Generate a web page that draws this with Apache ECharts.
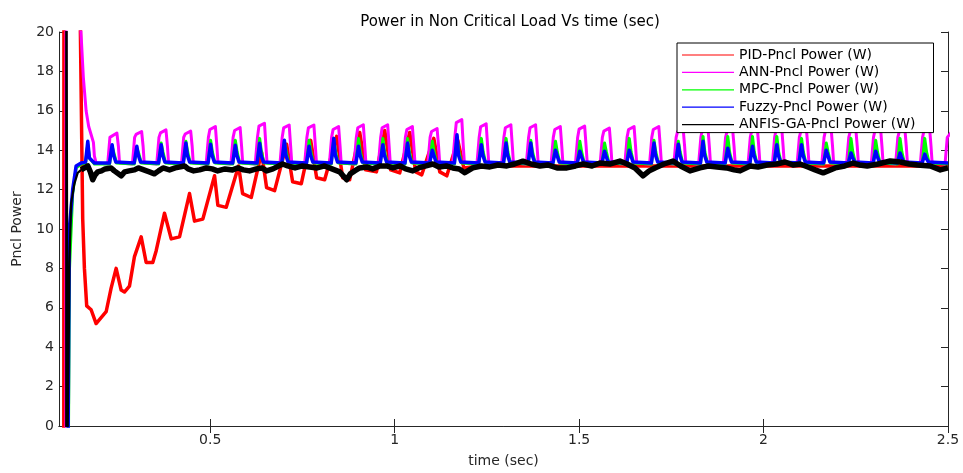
<!DOCTYPE html>
<html>
<head>
<meta charset="utf-8">
<script src="https://cdn.jsdelivr.net/npm/echarts@6/dist/echarts.min.js"></script>
<style>
html,body{margin:0;padding:0;background:#fff;}
#chart{width:963px;height:473px;}
</style>
</head>
<body>
<div id="chart"></div>
<script>
// ---- tick labels / categories ----
const xTickValues = [0.5, 1, 1.5, 2, 2.5];
const seriesNames = ['PID-Pncl Power (W)', 'ANN-Pncl Power (W)', 'MPC-Pncl Power (W)', 'Fuzzy-Pncl Power (W)', 'ANFIS-GA-Pncl Power (W)'];

// ---- series values [time (s), power] ----
const pidData = [
[0.103,-1],[0.1035,30],[0.147,30],[0.148,20],[0.1543,10.5],[0.1589,8.0],[0.1651,6.1],[0.1771,5.9],[0.1906,5.2],[0.2178,5.8],
[0.2313,7.0],[0.2449,8.0],[0.2585,6.9],[0.2674,6.8],[0.281,7.1],[0.2946,8.6],[0.3128,9.6],[0.3263,8.3],[0.3442,8.3],[0.3535,8.9],
[0.376,10.8],[0.3806,10.9],[0.3942,9.5],[0.4167,9.6],[0.4438,11.8],[0.4574,10.4],[0.4799,10.5],[0.5117,12.7],[0.5207,11.2],[0.5434,11.1],
[0.5768,13.2],[0.5877,11.8],[0.6113,11.6],[0.6392,13.9],[0.6528,12.1],[0.6745,11.95],[0.707,14.3],[0.7233,12.4],[0.7469,12.3],[0.7722,14.5],
[0.7885,12.6],[0.8102,12.5],[0.8427,14.7],[0.859,12.6],[0.878,12.5],[0.9052,14.9],[0.9214,13.0],[0.9505,12.9],[0.973,15.0],[0.9893,13.0],
[1.0137,12.85],[1.0408,14.9],[1.0571,12.9],[1.0734,12.75],[1.106,14.6],[1.1223,12.9],[1.1413,12.7],[1.1711,14.5],[1.1874,13.1],[1.23,13.2],
[1.5,13.2],[1.8,13.2],[2.1,13.2],[2.5,13.2]
];

const annData = [
[0.1085,-1],[0.109,30],[0.148,30],[0.1495,20],[0.156,17.7],[0.1635,16.0],[0.1705,15.2],[0.177,14.8],[0.1833,14.4],[0.186,13.7],[0.1906,13.36],
[0.222,13.3],[0.228,14.65],[0.232,14.72],[0.247,14.87],[0.251,14.2],[0.254,13.35],
[0.289,13.3],[0.295,14.65],[0.299,14.8],[0.314,14.95],[0.318,14.2],[0.321,13.35],
[0.355,13.3],[0.361,14.65],[0.365,14.88],[0.380,15.03],[0.384,14.2],[0.387,13.35],
[0.422,13.3],[0.428,14.65],[0.432,14.82],[0.447,14.97],[0.451,14.2],[0.454,13.35],
[0.489,13.3],[0.495,14.65],[0.499,15.05],[0.514,15.2],[0.518,14.2],[0.521,13.35],
[0.556,13.3],[0.562,14.65],[0.566,15.0],[0.581,15.15],[0.585,14.2],[0.588,13.35],
[0.622,13.3],[0.628,14.65],[0.632,15.22],[0.647,15.37],[0.651,14.2],[0.654,13.35],
[0.689,13.3],[0.695,14.65],[0.699,15.13],[0.714,15.28],[0.718,14.2],[0.721,13.35],
[0.756,13.3],[0.762,14.65],[0.766,15.13],[0.781,15.28],[0.785,14.2],[0.788,13.35],
[0.823,13.3],[0.829,14.65],[0.833,15.05],[0.848,15.2],[0.852,14.2],[0.855,13.35],
[0.890,13.3],[0.896,14.65],[0.900,15.14],[0.915,15.29],[0.919,14.2],[0.922,13.35],
[0.956,13.3],[0.962,14.65],[0.966,15.14],[0.981,15.29],[0.985,14.2],[0.988,13.35],
[1.023,13.3],[1.029,14.65],[1.033,15.05],[1.048,15.2],[1.052,14.2],[1.055,13.35],
[1.090,13.3],[1.096,14.65],[1.100,14.95],[1.115,15.1],[1.119,14.2],[1.122,13.35],
[1.157,13.3],[1.163,14.65],[1.167,15.4],[1.182,15.55],[1.186,14.2],[1.189,13.35],
[1.223,13.3],[1.229,14.65],[1.233,15.19],[1.248,15.34],[1.252,14.2],[1.255,13.35],
[1.290,13.3],[1.296,14.65],[1.300,15.14],[1.315,15.29],[1.319,14.2],[1.322,13.35],
[1.357,13.3],[1.363,14.65],[1.367,15.14],[1.382,15.29],[1.386,14.2],[1.389,13.35],
[1.424,13.3],[1.430,14.65],[1.434,15.05],[1.449,15.2],[1.453,14.2],[1.456,13.35],
[1.490,13.3],[1.496,14.65],[1.500,15.07],[1.515,15.22],[1.519,14.2],[1.522,13.35],
[1.557,13.3],[1.563,14.65],[1.567,14.97],[1.582,15.12],[1.586,14.2],[1.589,13.35],
[1.624,13.3],[1.630,14.65],[1.634,15.05],[1.649,15.2],[1.653,14.2],[1.656,13.35],
[1.691,13.3],[1.697,14.65],[1.701,15.05],[1.716,15.2],[1.720,14.2],[1.723,13.35],
[1.757,13.3],[1.763,14.65],[1.767,14.95],[1.782,15.1],[1.786,14.2],[1.789,13.35],
[1.824,13.3],[1.830,14.65],[1.834,15.05],[1.849,15.2],[1.853,14.2],[1.856,13.35],
[1.891,13.3],[1.897,14.65],[1.901,14.95],[1.916,15.1],[1.920,14.2],[1.923,13.35],
[1.958,13.3],[1.964,14.65],[1.968,15.0],[1.983,15.15],[1.987,14.2],[1.990,13.35],
[2.024,13.3],[2.030,14.65],[2.034,15.05],[2.049,15.2],[2.053,14.2],[2.056,13.35],
[2.091,13.3],[2.097,14.65],[2.101,14.95],[2.116,15.1],[2.120,14.2],[2.123,13.35],
[2.158,13.3],[2.164,14.65],[2.168,15.0],[2.183,15.15],[2.187,14.2],[2.190,13.35],
[2.225,13.3],[2.231,14.65],[2.235,14.95],[2.250,15.1],[2.254,14.2],[2.257,13.35],
[2.292,13.3],[2.298,14.65],[2.302,15.0],[2.317,15.15],[2.321,14.2],[2.324,13.35],
[2.358,13.3],[2.364,14.65],[2.368,14.95],[2.383,15.1],[2.387,14.2],[2.390,13.35],
[2.425,13.3],[2.431,14.65],[2.435,15.0],[2.450,15.15],[2.454,14.2],[2.457,13.35],
[2.492,13.3],[2.498,14.65],[2.517,15.1]
];

const mpcData = [
[0.1155,-1],[0.1185,8],[0.127,11.8],[0.1364,13.1],[0.150,13.3],[0.162,13.35],[0.168,14.3],[0.1725,13.6],[0.186,13.3],
[0.227,13.3],[0.234,14.2],[0.239,13.85],[0.246,13.35],
[0.294,13.3],[0.301,14.1],[0.306,13.85],[0.313,13.35],
[0.360,13.3],[0.367,14.36],[0.372,13.9],[0.379,13.35],
[0.427,13.3],[0.434,14.45],[0.439,13.9],[0.446,13.35],
[0.494,13.3],[0.501,14.5],[0.506,13.9],[0.513,13.35],
[0.561,13.3],[0.568,14.5],[0.573,13.9],[0.580,13.35],
[0.627,13.3],[0.634,14.6],[0.639,13.9],[0.646,13.35],
[0.694,13.3],[0.701,14.45],[0.706,13.9],[0.713,13.35],
[0.761,13.3],[0.768,14.5],[0.773,13.9],[0.780,13.35],
[0.828,13.3],[0.835,14.6],[0.840,13.9],[0.847,13.35],
[0.895,13.3],[0.902,14.6],[0.907,13.9],[0.914,13.35],
[0.961,13.3],[0.968,14.6],[0.973,13.9],[0.980,13.35],
[1.028,13.3],[1.035,14.6],[1.040,13.9],[1.047,13.35],
[1.095,13.3],[1.102,14.45],[1.107,13.9],[1.114,13.35],
[1.162,13.3],[1.169,14.7],[1.174,13.9],[1.181,13.35],
[1.228,13.3],[1.235,14.6],[1.240,13.9],[1.247,13.35],
[1.295,13.3],[1.302,14.6],[1.307,13.9],[1.314,13.35],
[1.362,13.3],[1.369,14.5],[1.374,13.9],[1.381,13.35],
[1.429,13.3],[1.436,14.45],[1.441,13.9],[1.448,13.35],
[1.495,13.3],[1.502,14.45],[1.507,13.9],[1.514,13.35],
[1.562,13.3],[1.569,14.36],[1.574,13.9],[1.581,13.35],
[1.629,13.3],[1.636,14.6],[1.641,13.9],[1.648,13.35],
[1.696,13.3],[1.703,14.5],[1.708,13.9],[1.715,13.35],
[1.762,13.3],[1.769,14.45],[1.774,13.9],[1.781,13.35],
[1.829,13.3],[1.836,14.7],[1.841,13.9],[1.848,13.35],
[1.896,13.3],[1.903,14.7],[1.908,13.9],[1.915,13.35],
[1.963,13.3],[1.970,14.7],[1.975,13.9],[1.982,13.35],
[2.029,13.3],[2.036,14.7],[2.041,13.9],[2.048,13.35],
[2.096,13.3],[2.103,14.6],[2.108,13.9],[2.115,13.35],
[2.163,13.3],[2.170,14.36],[2.175,13.9],[2.182,13.35],
[2.230,13.3],[2.237,14.6],[2.242,13.9],[2.249,13.35],
[2.297,13.3],[2.304,14.5],[2.309,13.9],[2.316,13.35],
[2.363,13.3],[2.370,14.6],[2.375,13.9],[2.382,13.35],
[2.430,13.3],[2.437,14.6],[2.442,13.9],[2.449,13.35],
[2.5,13.3]
];

const fuzzyData = [
[0.1145,-1],[0.118,10],[0.1271,12.0],[0.1364,13.2],[0.150,13.35],[0.162,13.4],[0.168,14.45],[0.1725,13.6],[0.186,13.35],
[0.227,13.35],[0.234,14.28],[0.238,13.75],[0.244,13.4],
[0.294,13.35],[0.301,14.2],[0.305,13.75],[0.311,13.4],
[0.360,13.35],[0.367,14.28],[0.371,13.75],[0.377,13.4],
[0.427,13.35],[0.434,14.36],[0.438,13.75],[0.444,13.4],
[0.494,13.35],[0.501,14.3],[0.505,13.75],[0.511,13.4],
[0.561,13.35],[0.568,14.25],[0.572,13.75],[0.578,13.4],
[0.627,13.35],[0.634,14.35],[0.638,13.75],[0.644,13.4],
[0.694,13.35],[0.701,14.5],[0.705,13.75],[0.711,13.4],
[0.761,13.35],[0.768,14.2],[0.772,13.75],[0.778,13.4],
[0.828,13.35],[0.835,14.6],[0.839,13.75],[0.845,13.4],
[0.895,13.35],[0.902,14.2],[0.906,13.75],[0.912,13.4],
[0.961,13.35],[0.968,14.28],[0.972,13.75],[0.978,13.4],
[1.028,13.35],[1.035,14.36],[1.039,13.75],[1.045,13.4],
[1.095,13.35],[1.102,14.0],[1.106,13.75],[1.112,13.4],
[1.162,13.35],[1.169,14.78],[1.173,13.75],[1.179,13.4],
[1.228,13.35],[1.235,14.28],[1.239,13.75],[1.245,13.4],
[1.295,13.35],[1.302,14.36],[1.306,13.75],[1.312,13.4],
[1.362,13.35],[1.369,14.36],[1.373,13.75],[1.379,13.4],
[1.429,13.35],[1.436,14.0],[1.440,13.75],[1.446,13.4],
[1.495,13.35],[1.502,13.95],[1.506,13.7],[1.512,13.4],
[1.562,13.35],[1.569,13.95],[1.573,13.7],[1.579,13.4],
[1.629,13.35],[1.636,14.0],[1.640,13.75],[1.646,13.4],
[1.696,13.35],[1.703,14.36],[1.707,13.75],[1.713,13.4],
[1.762,13.35],[1.769,14.3],[1.773,13.75],[1.779,13.4],
[1.829,13.35],[1.836,14.45],[1.840,13.75],[1.846,13.4],
[1.896,13.35],[1.903,14.1],[1.907,13.75],[1.913,13.4],
[1.963,13.35],[1.970,14.2],[1.974,13.75],[1.980,13.4],
[2.029,13.35],[2.036,14.28],[2.040,13.75],[2.046,13.4],
[2.096,13.35],[2.103,14.28],[2.107,13.75],[2.113,13.4],
[2.163,13.35],[2.170,14.0],[2.174,13.75],[2.180,13.4],
[2.230,13.35],[2.237,13.86],[2.241,13.65],[2.247,13.4],
[2.297,13.35],[2.304,13.95],[2.308,13.7],[2.314,13.4],
[2.363,13.35],[2.370,13.86],[2.374,13.65],[2.380,13.4],
[2.430,13.35],[2.437,13.8],[2.441,13.6],[2.447,13.4],
[2.5,13.35]
];

// ANFIS-GA start-up transient (thin) and steady noisy part (thick band)
const anfisStartData = [
[0.1095,-1],[0.1097,30],[0.1128,30],[0.1131,-1],[0.1155,-1],[0.1168,5],[0.1182,8.3],[0.1228,11.3],[0.1318,12.3],[0.1407,12.85],[0.1500,13.0]
];
const anfisData = [
[0.150,13.0],[0.159,13.1],[0.168,13.2],[0.175,12.9],[0.1814,12.5],[0.188,12.75],[0.195,12.9],[0.205,12.95],[0.215,13.05],[0.2313,13.1],
[0.240,12.95],[0.2585,12.7],[0.268,12.9],[0.28,12.95],[0.2946,13.0],[0.305,13.1],[0.32,13.0],[0.335,12.9],[0.3488,12.8],[0.36,12.95],
[0.372,13.1],[0.3896,13.0],[0.405,13.1],[0.4303,13.2],[0.44,13.05],[0.455,12.95],[0.471,13.0],[0.49,13.1],[0.505,13.05],[0.52,12.95],
[0.54,13.05],[0.5605,13.0],[0.575,13.1],[0.59,13.0],[0.6067,12.95],[0.625,13.05],[0.64,13.1],[0.6528,12.95],[0.67,13.05],[0.6962,13.3],
[0.71,13.2],[0.73,13.1],[0.75,13.2],[0.7695,13.15],[0.79,13.1],[0.81,13.2],[0.83,13.05],[0.8509,12.9],[0.8699,12.5],[0.88,12.8],
[0.8916,12.95],[0.905,13.1],[0.9242,13.15],[0.94,13.05],[0.96,13.2],[0.9784,13.2],[0.995,13.1],[1.015,13.2],[1.03,13.05],[1.049,12.95],
[1.065,13.1],[1.085,13.2],[1.1033,13.3],[1.12,13.15],[1.14,13.2],[1.1575,13.1],[1.175,13.05],[1.1901,12.86],[1.2118,13.1],[1.235,13.2],
[1.2579,13.15],[1.28,13.25],[1.3041,13.2],[1.325,13.3],[1.3475,13.44],[1.37,13.3],[1.3936,13.2],[1.415,13.25],[1.44,13.1],[1.4669,13.1],
[1.49,13.2],[1.5103,13.3],[1.535,13.2],[1.5564,13.35],[1.585,13.3],[1.6107,13.45],[1.63,13.3],[1.6514,13.1],[1.6731,12.7],[1.69,12.95],
[1.7057,13.1],[1.73,13.3],[1.7545,13.45],[1.775,13.2],[1.8006,12.95],[1.8278,13.1],[1.85,13.2],[1.8739,13.15],[1.9,13.1],[1.92,13.0],
[1.9363,12.95],[1.9635,13.2],[1.985,13.15],[2.0096,13.25],[2.035,13.3],[2.0585,13.4],[2.08,13.25],[2.0992,13.3],[2.12,13.15],[2.1399,13.0],
[2.1616,12.85],[2.1942,13.1],[2.22,13.2],[2.243,13.35],[2.26,13.25],[2.281,13.2],[2.31,13.3],[2.3434,13.45],[2.3706,13.4],[2.395,13.3],
[2.4167,13.25],[2.4519,13.2],[2.4791,13.0],[2.5,13.1]
];

const seriesData = [pidData, annData, mpcData, fuzzyData, anfisData];
const seriesColors = ['#ff0000', '#ff00ff', '#00ff00', '#0000ff', '#000000'];
const seriesWidths = [3.5, 3, 3, 3.5, 5.5];

const FONT = 'DejaVu Sans';
const LEGEND_ICON = 'path://M0,0H52V1.2H0Z';
const chart = echarts.init(document.getElementById('chart'), null, {renderer: 'canvas'});

const mainSeries = seriesNames.map((name, i) => ({
  name: name,
  type: 'line',
  data: seriesData[i],
  xAxisIndex: 0, yAxisIndex: 0,
  symbol: 'none',
  clip: true,
  lineStyle: {color: seriesColors[i], width: seriesWidths[i], join: 'round'},
  itemStyle: {color: seriesColors[i]}
}));
// thin start-up part of the ANFIS-GA curve
mainSeries.push({
  name: 'ANFIS-GA start',
  type: 'line',
  data: anfisStartData,
  symbol: 'none',
  clip: true,
  lineStyle: {color: '#000000', width: 2.2, join: 'round'},
  itemStyle: {color: '#000000'}
});

const option = {
  animation: false,
  backgroundColor: '#ffffff',
  title: {
    text: 'Power in Non Critical Load Vs time (sec)',
    left: 505, top: 10, textAlign: 'center',
    textStyle: {fontFamily: FONT, fontSize: 15, fontWeight: 'normal', color: '#000'}
  },
  legend: {
    orient: 'vertical', left: 677, top: 43,
    padding: [5, 18, 1, 5],
    itemWidth: 52, itemHeight: 14, itemGap: 3.4, itemTextGap: 8,
    icon: LEGEND_ICON,
    backgroundColor: '#ffffff', borderColor: '#000', borderWidth: 1, borderRadius: 0,
    textStyle: {fontFamily: FONT, fontSize: 14, color: '#000', lineHeight: 14},
    data: seriesNames.map((n, i) => ({name: n, icon: LEGEND_ICON, itemStyle: {color: seriesColors[i]}}))
  },
  grid: {left: 59, right: 15, top: 32, bottom: 45, containLabel: false},
  xAxis: [{
    type: 'value', min: 0.09, max: 2.5,
    name: 'time (sec)', nameLocation: 'middle', nameGap: 28,
    nameTextStyle: {fontFamily: FONT, fontSize: 14, color: '#262626'},
    axisLine: {show: true, lineStyle: {color: '#262626', width: 1}},
    axisTick: {show: true, inside: true, length: 7, customValues: xTickValues, lineStyle: {color: '#262626'}},
    axisLabel: {customValues: xTickValues, margin: 7, fontFamily: FONT, fontSize: 14, color: '#262626'},
    splitLine: {show: false}
  }, {
    type: 'value', min: 0.09, max: 2.5, position: 'top',
    axisLine: {show: true, lineStyle: {color: '#262626', width: 1}},
    axisTick: {show: true, inside: true, length: 7, customValues: xTickValues, lineStyle: {color: '#262626'}},
    axisLabel: {show: false},
    splitLine: {show: false}
  }],
  yAxis: [{
    type: 'value', min: 0, max: 20, interval: 2,
    name: 'Pncl Power', nameLocation: 'middle', nameGap: 35, nameRotate: 90,
    nameTextStyle: {fontFamily: FONT, fontSize: 14, color: '#262626'},
    axisLine: {show: true, lineStyle: {color: '#262626', width: 1}},
    axisTick: {show: true, inside: true, length: 7, lineStyle: {color: '#262626'}},
    axisLabel: {margin: 5, fontFamily: FONT, fontSize: 14, color: '#262626'},
    splitLine: {show: false}
  }, {
    type: 'value', min: 0, max: 20, interval: 2, position: 'right',
    axisLine: {show: true, lineStyle: {color: '#262626', width: 1}},
    axisTick: {show: true, inside: true, length: 7, lineStyle: {color: '#262626'}},
    axisLabel: {show: false},
    splitLine: {show: false}
  }],
  series: mainSeries
};
chart.setOption(option);
</script>
</body>
</html>
